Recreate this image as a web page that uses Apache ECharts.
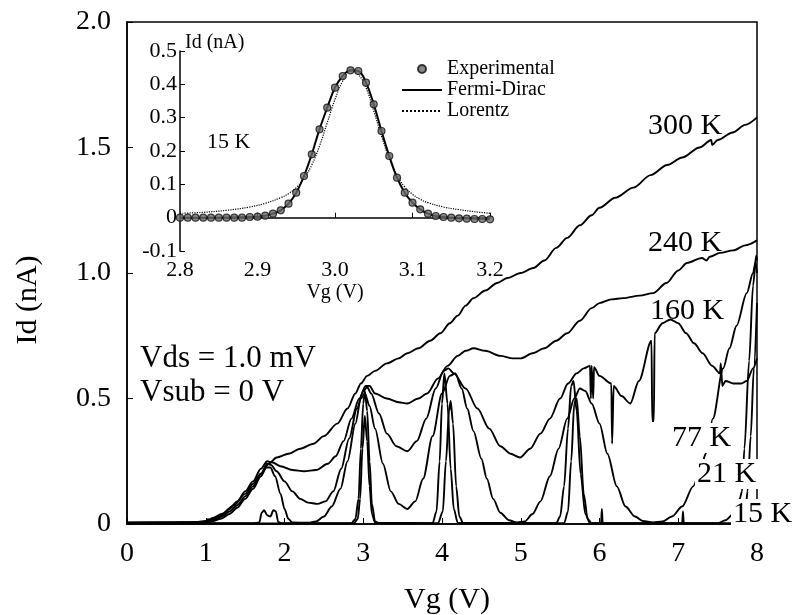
<!DOCTYPE html>
<html>
<head>
<meta charset="utf-8">
<script src="https://cdn.jsdelivr.net/npm/echarts@6/dist/echarts.min.js"></script>
<style>
  html, body { margin: 0; padding: 0; background: #fff; }
  #chart { width: 795px; height: 615px; }
</style>
</head>
<body>
<div id="chart"></div>
<script>
// main plot: Id (nA) vs Vg (V), one curve per temperature
const k300 = [[0,0.006],[0.5,0.006],[0.9,0.008],[1.0,0.012],[1.1,0.025],[1.2,0.04],[1.36,0.075],[1.5,0.12],[1.6,0.16],[1.7,0.2],[1.8,0.24],[1.9,0.265],[2.05,0.28],[2.2,0.3],[2.37,0.32],[2.5,0.35],[2.67,0.4],[2.8,0.46],[2.9,0.52],[2.97,0.56],[3.05,0.59],[3.15,0.61],[3.3,0.64],[3.45,0.66],[3.56,0.68],[3.7,0.7],[3.85,0.73],[3.98,0.76],[4.1,0.8],[4.2,0.83],[4.3,0.87],[4.4,0.9],[4.55,0.93],[4.7,0.96],[4.83,0.98],[5.0,1.0],[5.16,1.02],[5.3,1.05],[5.45,1.1],[5.59,1.14],[5.75,1.19],[5.9,1.23],[6.0,1.26],[6.2,1.3],[6.43,1.34],[6.65,1.39],[6.86,1.43],[7.05,1.46],[7.27,1.5],[7.42,1.53],[7.43,1.51],[7.5,1.53],[7.69,1.56],[7.85,1.59],[8.0,1.62]]
const k240 = [[0,0.005],[0.9,0.006],[1.0,0.01],[1.1,0.02],[1.2,0.035],[1.3,0.06],[1.4,0.09],[1.5,0.13],[1.6,0.17],[1.7,0.22],[1.78,0.25],[1.85,0.245],[1.95,0.23],[2.1,0.215],[2.25,0.21],[2.4,0.215],[2.55,0.24],[2.65,0.27],[2.75,0.33],[2.85,0.42],[2.95,0.5],[3.03,0.55],[3.08,0.55],[3.15,0.52],[3.3,0.5],[3.45,0.485],[3.56,0.48],[3.7,0.5],[3.81,0.52],[3.95,0.58],[4.07,0.63],[4.2,0.67],[4.3,0.69],[4.4,0.7],[4.55,0.69],[4.74,0.67],[4.9,0.66],[5.0,0.66],[5.15,0.68],[5.3,0.7],[5.45,0.73],[5.59,0.76],[5.75,0.81],[5.9,0.86],[6.0,0.88],[6.15,0.895],[6.3,0.9],[6.51,0.91],[6.68,0.92],[6.85,0.96],[7.0,1.01],[7.11,1.04],[7.3,1.06],[7.36,1.05],[7.4,1.065],[7.53,1.08],[7.7,1.09],[7.85,1.11],[8.0,1.13]]
const k160 = [[0,0.004],[0.9,0.005],[1.0,0.008],[1.1,0.015],[1.2,0.03],[1.3,0.05],[1.4,0.075],[1.5,0.11],[1.6,0.15],[1.7,0.2],[1.78,0.24],[1.83,0.235],[1.9,0.21],[2.0,0.17],[2.1,0.13],[2.2,0.1],[2.3,0.085],[2.42,0.08],[2.52,0.09],[2.62,0.13],[2.72,0.22],[2.82,0.34],[2.92,0.46],[3.0,0.53],[3.05,0.545],[3.1,0.52],[3.2,0.44],[3.3,0.36],[3.42,0.31],[3.56,0.29],[3.68,0.33],[3.8,0.42],[3.92,0.54],[4.02,0.61],[4.08,0.62],[4.15,0.6],[4.3,0.54],[4.45,0.46],[4.6,0.38],[4.74,0.31],[4.87,0.28],[4.99,0.265],[5.12,0.3],[5.25,0.36],[5.37,0.42],[5.5,0.5],[5.6,0.56],[5.71,0.6],[5.8,0.62],[5.88,0.63],[5.89,0.5],[5.9,0.63],[5.92,0.5],[5.93,0.625],[6.0,0.59],[6.15,0.56],[6.16,0.32],[6.18,0.55],[6.28,0.51],[6.39,0.48],[6.5,0.57],[6.66,0.73],[6.67,0.41],[6.69,0.41],[6.7,0.76],[6.8,0.8],[6.9,0.815],[7.0,0.8],[7.1,0.76],[7.2,0.72],[7.31,0.68],[7.43,0.63],[7.53,0.6],[7.54,0.64],[7.56,0.55],[7.6,0.57],[7.7,0.56],[7.8,0.56],[7.87,0.57],[7.95,0.62],[8.0,0.66]]
const k77 = [[0,0.004],[0.9,0.005],[1.0,0.008],[1.1,0.012],[1.2,0.022],[1.3,0.04],[1.4,0.065],[1.5,0.1],[1.6,0.14],[1.7,0.19],[1.77,0.225],[1.82,0.225],[1.88,0.19],[1.95,0.12],[2.0,0.06],[2.05,0.02],[2.1,0.006],[2.3,0.005],[2.4,0.01],[2.5,0.03],[2.6,0.07],[2.71,0.14],[2.8,0.25],[2.9,0.4],[2.97,0.5],[3.02,0.52],[3.08,0.47],[3.15,0.38],[3.25,0.24],[3.35,0.13],[3.45,0.08],[3.56,0.06],[3.66,0.09],[3.76,0.18],[3.88,0.35],[4.0,0.52],[4.1,0.59],[4.17,0.6],[4.25,0.54],[4.32,0.46],[4.4,0.37],[4.5,0.26],[4.57,0.18],[4.65,0.1],[4.74,0.045],[4.85,0.015],[4.95,0.006],[5.05,0.01],[5.15,0.04],[5.25,0.09],[5.37,0.19],[5.48,0.3],[5.59,0.42],[5.68,0.5],[5.75,0.54],[5.82,0.53],[5.9,0.48],[6.0,0.4],[6.1,0.28],[6.22,0.15],[6.33,0.07],[6.45,0.03],[6.55,0.012],[6.68,0.006],[6.8,0.01],[6.92,0.03],[7.05,0.07],[7.19,0.15],[7.3,0.24],[7.35,0.28],[7.44,0.42],[7.57,0.62],[7.65,0.7],[7.74,0.79],[7.87,0.92],[7.95,1.0],[7.98,1.04],[8.0,1.0]]
const k21 = [[0,0.003],[1.6,0.003],[1.68,0.006],[1.71,0.045],[1.74,0.055],[1.78,0.035],[1.82,0.03],[1.86,0.055],[1.89,0.05],[1.92,0.008],[1.96,0.003],[2.85,0.003],[2.9,0.02],[2.94,0.1],[2.97,0.3],[3.0,0.48],[3.02,0.53],[3.05,0.45],[3.08,0.25],[3.11,0.08],[3.15,0.01],[3.2,0.003],[3.88,0.003],[3.93,0.05],[3.97,0.25],[4.0,0.48],[4.03,0.6],[4.07,0.48],[4.11,0.22],[4.15,0.06],[4.2,0.005],[5.45,0.003],[5.5,0.03],[5.55,0.15],[5.6,0.38],[5.64,0.55],[5.67,0.57],[5.71,0.45],[5.76,0.2],[5.82,0.04],[5.88,0.003],[7.5,0.003],[7.6,0.015],[7.7,0.04],[7.78,0.1],[7.81,0.13],[7.84,0.3],[7.9,0.65],[7.95,0.95],[7.99,1.07],[8.0,1.05]]
const k15 = [[0,0.002],[1.0,0.002],[1.03,0.02],[1.04,0.002],[2.88,0.002],[2.93,0.02],[2.96,0.1],[2.99,0.3],[3.02,0.43],[3.05,0.33],[3.08,0.15],[3.11,0.04],[3.15,0.005],[3.95,0.003],[4.01,0.05],[4.05,0.25],[4.09,0.45],[4.11,0.49],[4.14,0.4],[4.18,0.15],[4.22,0.03],[4.27,0.003],[5.55,0.003],[5.6,0.05],[5.64,0.25],[5.68,0.48],[5.71,0.5],[5.75,0.35],[5.8,0.12],[5.85,0.02],[5.9,0.003],[6.02,0.003],[6.03,0.06],[6.04,0.003],[7.05,0.003],[7.06,0.05],[7.07,0.003],[7.75,0.003],[7.82,0.02],[7.86,0.08],[7.88,0.13],[7.92,0.35],[7.96,0.62],[8.0,0.88]]

// inset: 15 K peak near Vg = 3.0 V
const insetVg = [2.80,2.81,2.82,2.83,2.84,2.85,2.86,2.87,2.88,2.89,2.90,2.91,2.92,2.93,2.94,2.95,2.96,2.97,2.98,2.99,3.00,3.01,3.02,3.03,3.04,3.05,3.06,3.07,3.08,3.09,3.10,3.11,3.12,3.13,3.14,3.15,3.16,3.17,3.18,3.19,3.20]
const expId = [0,0,0,0,0,0,0,0,0,0.002,0.003,0.006,0.012,0.022,0.042,0.075,0.125,0.19,0.265,0.33,0.39,0.425,0.442,0.44,0.405,0.34,0.26,0.185,0.12,0.075,0.045,0.025,0.012,0.005,0.002,0,-0.002,-0.003,-0.004,-0.004,-0.005]
const fermiDirac = [[2.8,0],[2.85,0],[2.88,0.001],[2.9,0.003],[2.91,0.006],[2.92,0.012],[2.93,0.022],[2.94,0.042],[2.95,0.075],[2.96,0.125],[2.97,0.19],[2.98,0.265],[2.99,0.33],[3.0,0.39],[3.01,0.425],[3.02,0.442],[3.03,0.44],[3.04,0.405],[3.05,0.34],[3.06,0.26],[3.07,0.185],[3.08,0.12],[3.09,0.075],[3.1,0.045],[3.11,0.025],[3.12,0.012],[3.13,0.005],[3.15,0],[3.2,-0.004]]
const lorentz = [[2.8,0.013],[2.83,0.016],[2.86,0.022],[2.89,0.032],[2.91,0.043],[2.93,0.06],[2.94,0.072],[2.95,0.09],[2.96,0.118],[2.97,0.158],[2.98,0.215],[2.99,0.285],[3.0,0.355],[3.01,0.41],[3.02,0.44],[3.03,0.43],[3.04,0.39],[3.05,0.32],[3.06,0.245],[3.07,0.178],[3.08,0.127],[3.09,0.092],[3.1,0.07],[3.11,0.055],[3.12,0.045],[3.14,0.032],[3.16,0.024],[3.18,0.018],[3.2,0.013]]

const mainCurves = [
  { name: '300 K', data: k300 },
  { name: '240 K', data: k240 },
  { name: '160 K', data: k160 },
  { name: '77 K', data: k77 },
  { name: '21 K', data: k21 },
  { name: '15 K', data: k15 },
]

const SERIF = '"Liberation Serif", "DejaVu Serif", serif'

function fmt1(v) {
  return Math.abs(v) < 1e-9 ? '0' : v.toFixed(1)
}

// text placed on the figure; boxed labels hide the curves behind them
function label(text, x, y, size, extra) {
  return {
    type: 'text',
    z: 100,
    style: Object.assign({
      text: text, x: x, y: y,
      font: size + 'px ' + SERIF,
      fill: '#000',
      verticalAlign: 'middle',
    }, extra || {}),
  }
}

const boxed = { backgroundColor: '#fff', padding: [0, 2] }

const chart = echarts.init(document.getElementById('chart'), null, { renderer: 'canvas' })

chart.setOption({
  animation: false,
  backgroundColor: '#fff',
  grid: [
    { left: 127, right: 38, top: 22, bottom: 91, show: true, borderColor: '#000', borderWidth: 1.5 },
    { left: 180, width: 310, top: 51, bottom: 364 },
  ],
  legend: {
    orient: 'vertical',
    left: 396,
    top: 54,
    itemWidth: 40,
    itemHeight: 8,
    itemGap: 1,
    data: [
      { name: 'Experimental' },
      { name: 'Fermi-Dirac', itemStyle: { opacity: 0 } },
      { name: 'Lorentz', itemStyle: { opacity: 0 } },
    ],
    textStyle: { fontFamily: SERIF, fontSize: 20, lineHeight: 18.5, color: '#000' },
  },
  xAxis: [
    {
      type: 'value', gridIndex: 0, min: 0, max: 8, interval: 1,
      axisLine: { lineStyle: { color: '#000', width: 1.5 } },
      axisTick: { inside: true, length: 6, lineStyle: { color: '#000' } },
      axisLabel: { color: '#000', fontFamily: SERIF, fontSize: 28, margin: 16 },
      splitLine: { show: false },
    },
    {
      type: 'value', gridIndex: 1, min: 2.8, max: 3.2, interval: 0.1,
      name: 'Vg (V)', nameLocation: 'middle', nameGap: 32,
      nameTextStyle: { color: '#000', fontFamily: SERIF, fontSize: 20 },
      axisLine: { lineStyle: { color: '#000', width: 1.5 } },
      axisTick: { inside: true, length: 5, lineStyle: { color: '#000' } },
      axisLabel: { color: '#000', fontFamily: SERIF, fontSize: 22, margin: 8, formatter: fmt1 },
      splitLine: { show: false },
    },
  ],
  yAxis: [
    {
      type: 'value', gridIndex: 0, min: 0, max: 2, interval: 0.5,
      axisLine: { show: true, lineStyle: { color: '#000', width: 1.5 } },
      axisTick: { show: true, inside: true, length: 6, lineStyle: { color: '#000' } },
      axisLabel: { color: '#000', fontFamily: SERIF, fontSize: 28, margin: 16, formatter: fmt1 },
      splitLine: { show: false },
    },
    {
      type: 'value', gridIndex: 1, min: -0.1, max: 0.5, interval: 0.1,
      axisLine: { show: true, lineStyle: { color: '#000', width: 1.5 } },
      axisTick: { show: true, inside: true, length: 5, lineStyle: { color: '#000' } },
      axisLabel: { color: '#000', fontFamily: SERIF, fontSize: 22, margin: 3, formatter: fmt1 },
      splitLine: { show: false },
    },
  ],
  series: mainCurves.map(c => ({
    type: 'line',
    name: c.name,
    xAxisIndex: 0,
    yAxisIndex: 0,
    data: c.data,
    showSymbol: false,
    smooth: 0.3,
    smoothMonotone: 'x',
    lineStyle: { color: '#000', width: 1.9 },
    itemStyle: { color: '#000' },
  })).concat([
    {
      type: 'line',
      name: 'Fermi-Dirac',
      xAxisIndex: 1,
      yAxisIndex: 1,
      data: fermiDirac,
      showSymbol: false,
      smooth: 0.4,
      lineStyle: { color: '#000', width: 2 },
      itemStyle: { color: '#000' },
    },
    {
      type: 'line',
      name: 'Lorentz',
      xAxisIndex: 1,
      yAxisIndex: 1,
      data: lorentz,
      showSymbol: false,
      smooth: 0.4,
      lineStyle: { color: '#000', width: 1.2, type: 'dotted' },
      itemStyle: { color: '#000' },
    },
    {
      type: 'scatter',
      name: 'Experimental',
      xAxisIndex: 1,
      yAxisIndex: 1,
      data: insetVg.map((v, i) => [v, expId[i]]),
      symbol: 'circle',
      symbolSize: 7,
      z: 5,
      itemStyle: { color: '#6a6a6a', borderColor: '#111', borderWidth: 1.2 },
    },
  ]),
  graphic: [
    label('300 K', 648, 126, 30),
    label('240 K', 648, 243, 30),
    label('160 K', 650, 311, 30),
    label('77 K', 670, 438, 30, boxed),
    label('21 K', 695, 474, 30, boxed),
    label('15 K', 731, 514, 30, boxed),
    label('Vds = 1.0 mV', 140, 359, 31),
    label('Vsub = 0 V', 140, 393, 31),
    label('Vg (V)', 447, 600, 30, { align: 'center' }),
    {
      type: 'text',
      z: 100,
      x: 28,
      y: 300,
      rotation: Math.PI / 2,
      style: { text: 'Id (nA)', x: 0, y: 0, font: '30px ' + SERIF, fill: '#000', align: 'center', verticalAlign: 'middle' },
    },
    label('Id (nA)', 185, 43, 20),
    label('15 K', 207, 142, 22),
  ],
})
</script>
</body>
</html>
